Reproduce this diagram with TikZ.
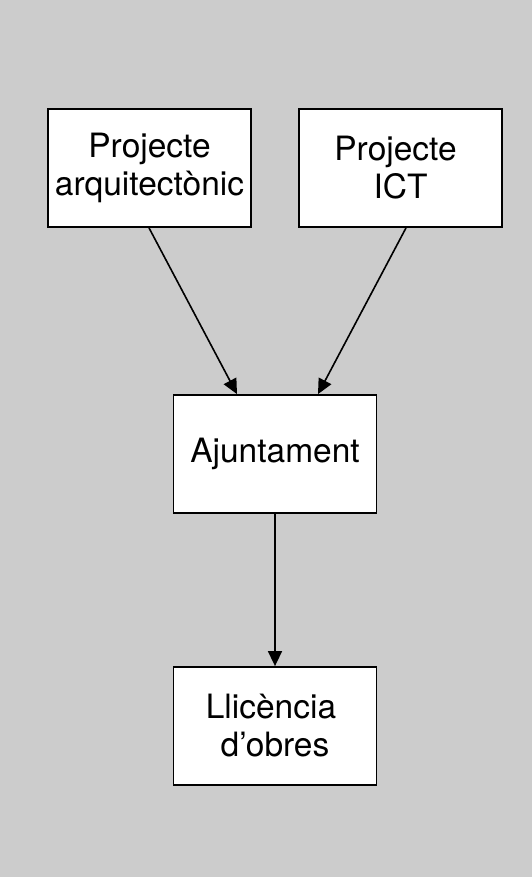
\documentclass[tikz,border=0pt]{standalone}
\usepackage{fontspec}
\setmainfont{TeX Gyre Heros}
\usetikzlibrary{arrows.meta}
\begin{document}
\begin{tikzpicture}[x=1pt,y=-1pt,
  boxnode/.style={draw=black,fill=white,line width=1.8pt,minimum width=203pt,minimum height=118pt,inner sep=0pt,align=center,font=\fontsize{33.5}{38}\selectfont},
  conn/.style={line width=1.6pt,-{Triangle[length=15pt,width=14pt]}}]
\fill[fill={rgb,255:red,204;green,204;blue,204}] (0,0) rectangle (532,877);
\useasboundingbox (0,0) rectangle (532,877);
\node[boxnode] (a) at (149.5,168) {Projecte\\arquitectònic};
\node[boxnode] (b) at (400.5,168) {Projecte\hspace*{10pt}\\ICT};
\node[boxnode] (c) at (275,454) {Ajuntament};
\node[boxnode] (d) at (275,726) {Llicència\hspace*{8pt}\\d’obres};
\draw[conn] ([xshift=-0.5pt]a.south) -- ([xshift=-38pt]c.north);
\draw[conn] ([xshift=5.5pt]b.south) -- ([xshift=43pt]c.north);
\draw[conn] (c.south) -- (d.north);
\end{tikzpicture}
\end{document}
